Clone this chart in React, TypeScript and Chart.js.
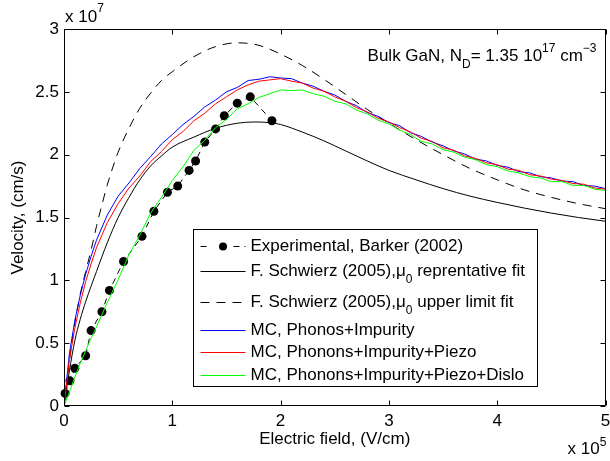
import React, { useEffect, useRef } from 'react';
import { Chart, registerables } from 'chart.js';

Chart.register(...registerables);

const FONT = "'Liberation Sans', Arial, Helvetica, sans-serif";

// Electric field in units of 1e5 V/cm, velocity in units of 1e7 cm/s
const expField = [0.01, 0.055, 0.1, 0.2, 0.25, 0.35, 0.42, 0.55, 0.72, 0.83, 0.955, 1.05, 1.155, 1.215, 1.3, 1.4, 1.48, 1.6, 1.72, 1.92];
const expVelocity = [0.1, 0.2, 0.3, 0.4, 0.6, 0.75, 0.92, 1.15, 1.35, 1.55, 1.7, 1.75, 1.875, 1.95, 2.1, 2.205, 2.31, 2.41, 2.46, 2.27];

const repField = [0, 0.05, 0.1, 0.15, 0.2, 0.3, 0.4, 0.5, 0.6, 0.7, 0.8, 0.9, 1.0, 1.2, 1.4, 1.6, 1.75, 1.9, 2.0, 2.2, 2.4, 2.6, 2.8, 3.0, 3.25, 3.5, 3.75, 4.0, 4.25, 4.5, 4.75, 5.0];
const repVelocity = [0, 0.28, 0.52, 0.69, 0.83, 1.07, 1.3, 1.5, 1.66, 1.8, 1.91, 1.99, 2.06, 2.14, 2.21, 2.25, 2.26, 2.255, 2.24, 2.18, 2.11, 2.03, 1.95, 1.875, 1.8, 1.73, 1.67, 1.62, 1.575, 1.535, 1.5, 1.47];

const upperField = [0, 0.05, 0.1, 0.15, 0.2, 0.25, 0.3, 0.35, 0.4, 0.5, 0.6, 0.7, 0.8, 0.9, 1.0, 1.2, 1.4, 1.6, 1.8, 2.0, 2.2, 2.4, 2.6, 2.8, 3.0, 3.25, 3.5, 3.75, 4.0, 4.25, 4.5, 4.75, 5.0];
const upperVelocity = [0, 0.36, 0.66, 0.89, 1.07, 1.24, 1.43, 1.6, 1.76, 2.02, 2.21, 2.37, 2.49, 2.59, 2.66, 2.78, 2.86, 2.89, 2.87, 2.8, 2.71, 2.6, 2.48, 2.36, 2.25, 2.12, 2.0, 1.89, 1.8, 1.72, 1.66, 1.61, 1.57];

const mcField = [0, 0.05, 0.1, 0.15, 0.2, 0.25, 0.3, 0.4, 0.5, 0.6, 0.7, 0.8, 0.9, 1.0, 1.1, 1.2, 1.3, 1.4, 1.5, 1.6, 1.7, 1.8, 1.9, 2.0, 2.1, 2.2, 2.3, 2.4, 2.5, 2.6, 2.7, 2.8, 2.9, 3.0, 3.1, 3.2, 3.3, 3.4, 3.5, 3.6, 3.7, 3.8, 3.9, 4.0, 4.1, 4.2, 4.3, 4.4, 4.5, 4.6, 4.7, 4.8, 4.9, 5.0];
const mcImpurity = [0, 0.42, 0.68, 0.88, 1.05, 1.19, 1.32, 1.52, 1.67, 1.775, 1.89, 1.985, 2.085, 2.16, 2.24, 2.305, 2.38, 2.435, 2.5, 2.535, 2.59, 2.6, 2.62, 2.61, 2.605, 2.57, 2.545, 2.505, 2.475, 2.425, 2.39, 2.335, 2.305, 2.255, 2.23, 2.175, 2.145, 2.1, 2.07, 2.03, 2.005, 1.965, 1.95, 1.915, 1.9, 1.865, 1.855, 1.825, 1.815, 1.79, 1.785, 1.755, 1.75, 1.73];
const mcPiezo = [0, 0.37, 0.62, 0.82, 0.99, 1.13, 1.26, 1.46, 1.61, 1.735, 1.83, 1.945, 2.025, 2.12, 2.185, 2.27, 2.33, 2.405, 2.46, 2.515, 2.555, 2.585, 2.595, 2.605, 2.585, 2.57, 2.53, 2.505, 2.46, 2.425, 2.375, 2.34, 2.29, 2.26, 2.215, 2.18, 2.13, 2.105, 2.055, 2.035, 1.99, 1.97, 1.935, 1.92, 1.885, 1.875, 1.84, 1.83, 1.805, 1.795, 1.77, 1.765, 1.735, 1.725];
const mcDislo = [0, 0.11, 0.23, 0.34, 0.44, 0.54, 0.63, 0.825, 1.005, 1.205, 1.36, 1.535, 1.66, 1.795, 1.905, 2.035, 2.115, 2.215, 2.28, 2.365, 2.405, 2.455, 2.485, 2.515, 2.51, 2.515, 2.485, 2.465, 2.425, 2.405, 2.355, 2.325, 2.275, 2.245, 2.195, 2.16, 2.105, 2.085, 2.04, 2.02, 1.98, 1.96, 1.92, 1.905, 1.87, 1.855, 1.825, 1.815, 1.785, 1.785, 1.755, 1.755, 1.725, 1.715];

const xTicks = [0, 1, 2, 3, 4, 5];
const yTicks = [0, 0.5, 1, 1.5, 2, 2.5, 3];

const pts = (xs: number[], ys: number[]) => xs.map((x, i) => ({ x, y: ys[i] }));

type Part = { t: string; size: number; dy: number };

function drawParts(ctx: CanvasRenderingContext2D, x: number, y: number, parts: Part[]) {
  let cx = x;
  for (const p of parts) {
    ctx.font = `${p.size}px ${FONT}`;
    ctx.fillText(p.t, cx, y + p.dy);
    cx += ctx.measureText(p.t).width;
  }
  return cx;
}
function partsWidth(ctx: CanvasRenderingContext2D, parts: Part[]) {
  let w = 0;
  for (const p of parts) {
    ctx.font = `${p.size}px ${FONT}`;
    w += ctx.measureText(p.t).width;
  }
  return w;
}

const M = 17;
const S = 12;

const overlay = {
  id: 'overlay',
  afterDraw(chart: any) {
    const { ctx, chartArea: a, scales } = chart;
    const xs = scales.x;
    const ys = scales.y;
    ctx.save();
    ctx.strokeStyle = '#000';
    ctx.lineWidth = 1;
    ctx.setLineDash([]);
    const L = Math.round(a.left) + 0.5;
    const R = Math.round(a.right) - 0.5;
    const T = Math.round(a.top) + 0.5;
    const B = Math.round(a.bottom) - 0.5;
    ctx.beginPath();
    ctx.rect(L, T, R - L, B - T);
    ctx.stroke();
    const tl = 5;
    ctx.beginPath();
    for (const t of xTicks) {
      const px = Math.round(xs.getPixelForValue(t)) + 0.5;
      ctx.moveTo(px, B); ctx.lineTo(px, B - tl);
      ctx.moveTo(px, T); ctx.lineTo(px, T + tl);
    }
    for (const t of yTicks) {
      const py = Math.round(ys.getPixelForValue(t)) + 0.5;
      ctx.moveTo(L, py); ctx.lineTo(L + tl, py);
      ctx.moveTo(R, py); ctx.lineTo(R - tl, py);
    }
    ctx.stroke();

    ctx.fillStyle = '#000';
    ctx.textAlign = 'left';
    ctx.textBaseline = 'alphabetic';
    // exponent labels
    drawParts(ctx, a.left + 1, a.top - 7, [
      { t: 'x 10', size: M, dy: 0 },
      { t: '7', size: S, dy: -10 },
    ]);
    drawParts(ctx, a.right - 38, a.bottom + 48, [
      { t: 'x 10', size: M, dy: 0 },
      { t: '5', size: S, dy: -8 },
    ]);

    // annotation
    const ann: Part[] = [
      { t: 'Bulk GaN, N', size: M, dy: 0 },
      { t: 'D', size: S, dy: 7 },
      { t: '= 1.35 10', size: M, dy: 0 },
      { t: '17', size: S, dy: -9 },
      { t: ' cm', size: M, dy: 0 },
      { t: '\u22123', size: S, dy: -9 },
    ];
    const aw = partsWidth(ctx, ann);
    drawParts(ctx, a.right - 9 - aw, a.top + 32, ann);

    // legend
    const lx = Math.round(a.left + 129) + 0.5;
    const ly = Math.round(a.top + 200) + 0.5;
    const lw = 344;
    const lh = 157;
    ctx.fillStyle = '#fff';
    ctx.fillRect(lx, ly, lw, lh);
    ctx.strokeStyle = '#000';
    ctx.lineWidth = 1;
    ctx.strokeRect(lx, ly, lw, lh);

    const rows = [
      { dy: 16, color: '#000', dash: [6, 5], marker: true, parts: [{ t: 'Experimental, Barker (2002)', size: M, dy: 0 }] },
      { dy: 41.5, color: '#000', dash: [], marker: false, parts: [{ t: 'F. Schwierz (2005),\u03bc', size: M, dy: 0 }, { t: '0', size: S, dy: 8 }, { t: ' reprentative fit', size: M, dy: 0 }] },
      { dy: 72.5, color: '#000', dash: [9, 7], marker: false, parts: [{ t: 'F. Schwierz (2005),\u03bc', size: M, dy: 0 }, { t: '0', size: S, dy: 8 }, { t: ' upper limit fit', size: M, dy: 0 }] },
      { dy: 100, color: '#0000ff', dash: [], marker: false, parts: [{ t: 'MC, Phonos+Impurity', size: M, dy: 0 }] },
      { dy: 122.5, color: '#ff0000', dash: [], marker: false, parts: [{ t: 'MC, Phonons+Impurity+Piezo', size: M, dy: 0 }] },
      { dy: 145, color: '#00ff00', dash: [], marker: false, parts: [{ t: 'MC, Phonons+Impurity+Piezo+Dislo', size: M, dy: 0 }] },
    ];
    for (const r of rows) {
      const y = Math.round(ly + r.dy) + 0.5;
      ctx.strokeStyle = r.color;
      ctx.lineWidth = 1;
      ctx.setLineDash(r.dash);
      ctx.beginPath();
      ctx.moveTo(lx + 7, y);
      ctx.lineTo(lx + 52, y);
      ctx.stroke();
      ctx.setLineDash([]);
      if (r.marker) {
        ctx.fillStyle = '#fff';
        ctx.fillRect(lx + 14, y - 5, 24, 10);
        ctx.fillStyle = '#000';
        ctx.beginPath();
        ctx.arc(lx + 29.5, y, 4, 0, Math.PI * 2);
        ctx.fill();
      }
      ctx.fillStyle = '#000';
      ctx.textBaseline = 'middle';
      drawParts(ctx, lx + 57, y, r.parts);
    }
    ctx.restore();
  },
};

export default function App() {
  const ref = useRef<HTMLCanvasElement | null>(null);
  useEffect(() => {
    if (!ref.current) return;
    const tickFont = { family: FONT, size: M };
    const chart = new Chart(ref.current, {
      type: 'scatter',
      data: {
        datasets: [
          {
            label: 'Experimental, Barker (2002)',
            data: pts(expField, expVelocity),
            showLine: true,
            borderColor: '#000',
            borderWidth: 1,
            borderDash: [6, 5],
            pointRadius: 4.5,
            pointBackgroundColor: '#000',
            pointBorderColor: '#000',
            pointBorderWidth: 0,
            clip: false as any,
            order: 6,
          },
          {
            label: 'F. Schwierz (2005), reprentative fit',
            data: pts(repField, repVelocity),
            showLine: true,
            borderColor: '#000',
            borderWidth: 1,
            pointRadius: 0,
            cubicInterpolationMode: 'monotone',
            order: 5,
          },
          {
            label: 'F. Schwierz (2005), upper limit fit',
            data: pts(upperField, upperVelocity),
            showLine: true,
            borderColor: '#000',
            borderWidth: 1,
            borderDash: [9, 7],
            pointRadius: 0,
            cubicInterpolationMode: 'monotone',
            order: 4,
          },
          {
            label: 'MC, Phonos+Impurity',
            data: pts(mcField, mcImpurity),
            showLine: true,
            borderColor: '#0000ff',
            borderWidth: 1,
            pointRadius: 0,
            order: 3,
          },
          {
            label: 'MC, Phonons+Impurity+Piezo',
            data: pts(mcField, mcPiezo),
            showLine: true,
            borderColor: '#ff0000',
            borderWidth: 1,
            pointRadius: 0,
            order: 2,
          },
          {
            label: 'MC, Phonons+Impurity+Piezo+Dislo',
            data: pts(mcField, mcDislo),
            showLine: true,
            borderColor: '#00ff00',
            borderWidth: 1,
            pointRadius: 0,
            order: 1,
          },
        ] as any,
      },
      options: {
        animation: false,
        responsive: false,
        devicePixelRatio: 1,
        events: [],
        layout: { padding: { top: 29, right: 1, left: 0, bottom: 0 } },
        plugins: { legend: { display: false }, tooltip: { enabled: false } },
        scales: {
          x: {
            type: 'linear',
            min: 0,
            max: 5,
            grid: { display: false, drawTicks: false },
            border: { display: false },
            ticks: {
              stepSize: 1,
              color: '#000',
              font: tickFont,
              padding: 5,
              maxRotation: 0,
              autoSkip: false,
              callback: (v: any) => String(v),
            },
            title: {
              display: true,
              text: 'Electric field, (V/cm)',
              color: '#000',
              font: tickFont,
              padding: { top: 0, bottom: 11 },
            },
            afterFit: (s: any) => {
              s.height = 55;
              s.paddingLeft = 0;
              s.paddingRight = 0;
            },
          },
          y: {
            type: 'linear',
            min: 0,
            max: 3,
            grid: { display: false, drawTicks: false },
            border: { display: false },
            ticks: {
              stepSize: 0.5,
              color: '#000',
              font: tickFont,
              padding: 5,
              autoSkip: false,
              callback: (v: any) => String(v),
            },
            title: {
              display: true,
              text: 'Velocity, (cm/s)',
              color: '#000',
              font: tickFont,
              padding: { top: 8, bottom: 0 },
            },
            afterFit: (s: any) => {
              s.width = 64;
              s.paddingTop = 0;
              s.paddingBottom = 0;
            },
          },
        },
      } as any,
      plugins: [overlay],
    });
    return () => chart.destroy();
  }, []);
  return (
    <div style={{ position: 'fixed', left: 0, top: 0, width: 610, height: 461, background: '#fff' }}>
      <canvas ref={ref} width={610} height={461} style={{ display: 'block' }} />
    </div>
  );
}
